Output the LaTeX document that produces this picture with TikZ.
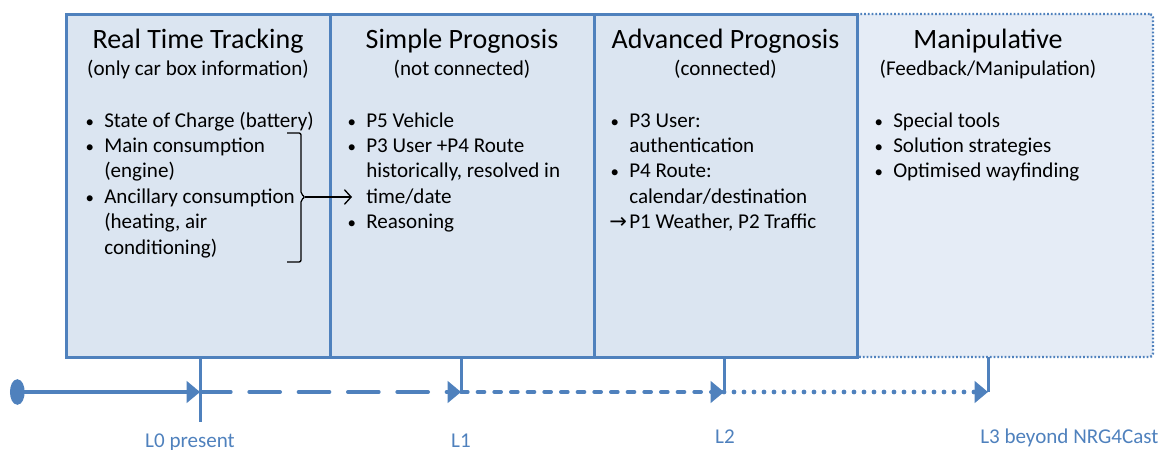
\documentclass[tikz,border=0pt]{standalone}
\usepackage{fontspec}
\setmainfont{Carlito}
\newfontfamily\arrowfont{DejaVu Sans}
\usepackage{tikz}
\usetikzlibrary{arrows.meta,calc,positioning,backgrounds}
\definecolor{nrgblue}{HTML}{4F81BD}
\definecolor{nrgfill}{HTML}{DBE5F1}
\definecolor{nrglightfill}{HTML}{E5ECF6}
\newcommand{\bul}{\makebox[15pt][l]{\hspace*{1pt}\scalebox{0.8}{\textbullet}}}
\newcommand{\ind}{\hspace*{15pt}}
\newcommand{\fwd}{\makebox[15pt][l]{\arrowfont →}}

\begin{document}
\begin{tikzpicture}[
  x=0.75pt,y=-0.75pt,
  stage/.style={draw=nrgblue,line width=2.25pt,fill=nrgfill,outer sep=0pt,inner sep=0pt,
                minimum width=198pt,minimum height=257.25pt},
  future/.style={draw=nrgblue,line width=1.8pt,dash pattern=on 1.3pt off 1.5pt,
                 fill=nrglightfill,rounded corners=2.5pt,outer sep=0pt,inner sep=0pt,
                 minimum width=222pt,minimum height=257.25pt},
  headline/.style={anchor=base,inner sep=0pt,font=\fontsize{21}{25}\selectfont},
  subhead/.style={anchor=base,inner sep=0pt,font=\fontsize{15.8}{19.1}\selectfont},
  bullets/.style={anchor=base west,inner sep=0pt,font=\fontsize{15.8}{19.1}\selectfont},
  tline/.style={nrgblue,line width=3pt,line cap=round},
  tickline/.style={nrgblue,line width=2.25pt},
  lvllabel/.style={inner sep=0pt,text=nrgblue,font=\fontsize{15.8}{19.1}\selectfont},
  tip/.style={-{Triangle[length=10pt,width=16pt]}}
]
  \useasboundingbox (0,0) rectangle (1168,450);

  % stages
  \node[stage] (rtt) at (198,185.5) {};
  \node[stage,right=0pt of rtt] (simple) {};
  \node[stage,right=0pt of simple,minimum width=197.25pt] (advanced) {};
  \begin{scope}[on background layer]
    \node[future,right=0pt of advanced] (manip) {};
  \end{scope}

  \node[headline] (rttT) at (198,48) {Real Time Tracking};
  \node[subhead] (rttS) at (198,75) {(only car box information)};
  \node[headline] (simpleT) at (462,48) {Simple Prognosis};
  \node[subhead] (simpleS) at (462,75) {(not connected)};
  \node[headline] (advancedT) at (725.5,48) {Advanced Prognosis};
  \node[subhead] (advancedS) at (725.5,75) {(connected)};
  \node[headline] (manipT) at (988,48) {Manipulative};
  \node[subhead] (manipS) at (988,75) {(Feedback/Manipulation)};

  \node[bullets] (rttL) at (84,127) {\begin{tabular}[t]{@{}l@{}}
    \bul State of Charge (battery)\\
    \bul Main consumption\\
    \ind(engine)\\
    \bul Ancillary consumption\\
    \ind(heating, air\\
    \ind conditioning)
  \end{tabular}};
  \node[bullets] (simpleL) at (346,127) {\begin{tabular}[t]{@{}l@{}}
    \bul P5 Vehicle\\
    \bul P3 User +P4 Route\\
    \ind historically, resolved in\\
    \ind time/date\\
    \bul Reasoning
  \end{tabular}};
  \node[bullets] (advancedL) at (609,127) {\begin{tabular}[t]{@{}l@{}}
    \bul P3 User:\\
    \ind authentication\\
    \bul P4 Route:\\
    \ind calendar/destination\\
    \fwd P1 Weather, P2 Traffic
  \end{tabular}};
  \node[bullets] (manipL) at (873,127) {\begin{tabular}[t]{@{}l@{}}
    \bul Special tools\\
    \bul Solution strategies\\
    \bul Optimised wayfinding
  \end{tabular}};

  % brace into simple prognosis
  \draw[line width=1pt,rounded corners=1.5pt]
    (287,133) -- (301,133) -- (301,194) -- (305,197) -- (301,200) -- (301,262) -- (287,262);
  \coordinate (brtip) at (305,197);
  \coordinate (brend) at (352,197);
  \draw[line width=1pt,-{Straight Barb[length=5pt,width=11pt]}] (brtip) -- (brend);

  % timeline
  \coordinate (t0) at (10,392);
  \coordinate (l0) at (200,392);
  \coordinate (l1) at (461,392);
  \coordinate (l2) at (724,392);
  \coordinate (l3) at (988,392);
  \draw[tline,{Ellipse[length=11pt,width=19pt]}-{Triangle[length=10pt,width=16pt]}] (t0) -- (l0);
  \draw[tline,tip,dash pattern=on 23pt off 14pt] (l0) -- (l1);
  \draw[tline,tip,dash pattern=on 5pt off 7.5pt] (l1) -- (l2);
  \draw[tline,tip,line width=3.6pt,dash pattern=on 0pt off 7.5pt] (l2) -- (l3);

  \draw[tickline] (l0 |- rtt.south) -- ($(l0)+(0,30)$);
  \draw[tickline] (l1 |- rtt.south) -- (l1);
  \draw[tickline] (l2 |- rtt.south) -- (l2);
  \draw[tickline] (l3 |- rtt.south) -- (l3);

  \node[lvllabel,anchor=base] (l0lab) at (190,447) {L0 present};
  \node[lvllabel,anchor=base] (l1lab) at (461,447) {L1};
  \node[lvllabel,anchor=base] (l2lab) at (725,443) {L2};
  \node[lvllabel,anchor=base west] (l3lab) at (980,443) {L3 beyond NRG4Cast};
\end{tikzpicture}
\end{document}
